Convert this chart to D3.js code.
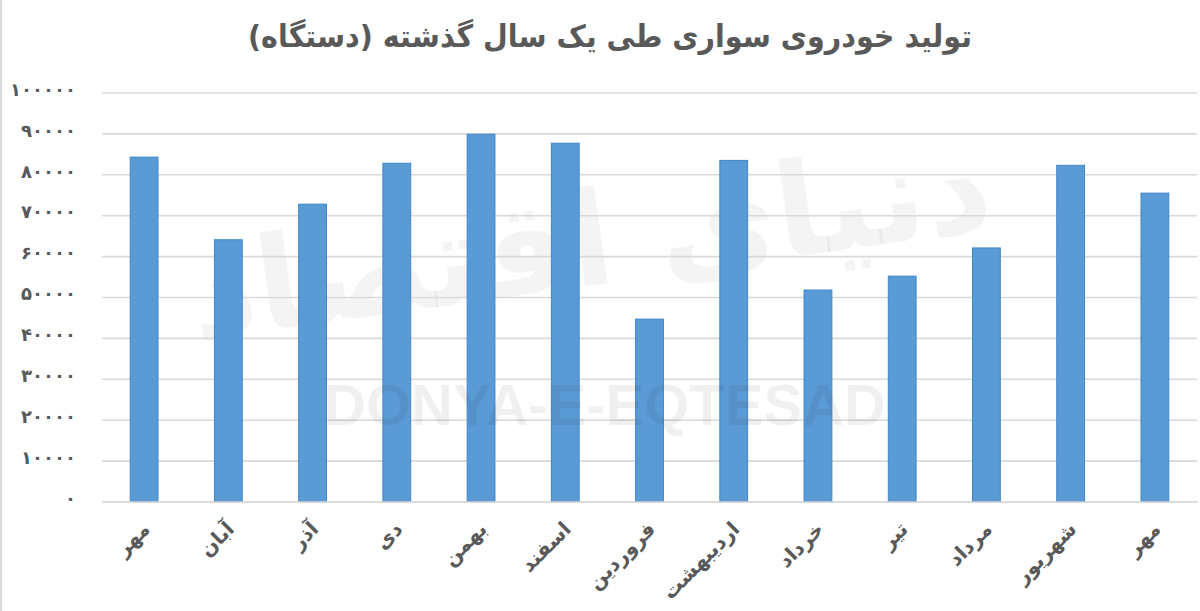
<!DOCTYPE html>
<html>
<head>
<meta charset="utf-8">
<script src="https://cdn.jsdelivr.net/npm/d3@7"></script>
<style>
  html, body { margin: 0; padding: 0; background: #fff; }
  svg { display: block; }
</style>
</head>
<body>
<svg id="chart" width="1200" height="611"></svg>
<script>
const title = "تولید خودروی سواری طی یک سال گذشته (دستگاه)";
const months = ["مهر","آبان","آذر","دی","بهمن","اسفند","فروردین","اردیبهشت","خرداد","تیر","مرداد","شهریور","مهر"];
const production = [84200, 64000, 72700, 82700, 89800, 87600, 44600, 83400, 51700, 55100, 62000, 82200, 75400];
const yTicks = [0, 10000, 20000, 30000, 40000, 50000, 60000, 70000, 80000, 90000, 100000];

const faDigits = "۰۱۲۳۴۵۶۷۸۹";
const toFa = n => String(n).replace(/[0-9]/g, d => faDigits[+d]);

const W = 1200, H = 611;
const margin = {left: 102, right: 3, top: 92.5, bottom: 109.5};
const svg = d3.select("#chart");
const font = "'DejaVu Sans', sans-serif";
const textColor = "#595959";

// left border line
svg.append("line").attr("x1", 1).attr("x2", 1).attr("y1", 0).attr("y2", H)
  .attr("stroke", "#d9d9d9").attr("stroke-width", 2);

const x = d3.scaleBand()
  .domain(months.map((m, i) => i))
  .range([margin.left, W - margin.right])
  .paddingInner(0.67).paddingOuter(0.335);

const y = d3.scaleLinear().domain([0, 100000]).range([H - margin.bottom, margin.top]);

// watermark (behind / faint)
svg.append("text").attr("x", 590).attr("y", 285)
  .attr("text-anchor", "middle").attr("font-family", font)
  .attr("font-weight", "bold").attr("font-size", 130)
  .attr("fill", "#000").attr("fill-opacity", 0.045)
  .attr("transform", "rotate(-8,590,240)")
  .text("دنیای اقتصاد");

// gridlines
const yAxis = d3.axisLeft(y).tickValues(yTicks).tickSize(-(W - margin.right - margin.left)).tickFormat(toFa);
const gy = svg.append("g").attr("transform", `translate(${margin.left},0)`).call(yAxis);
gy.select(".domain").remove();
gy.selectAll(".tick line").attr("stroke", "#d9d9d9").attr("stroke-width", 1.6);
gy.selectAll(".tick text")
  .attr("x", -26).attr("dy", "0.15em")
  .attr("fill", textColor).attr("font-family", font).attr("font-weight", "bold")
  .attr("font-size", 18).attr("text-anchor", "end");

// bars
svg.append("g").selectAll("rect").data(production).join("rect")
  .attr("x", (d, i) => x(i))
  .attr("y", d => y(d))
  .attr("width", x.bandwidth())
  .attr("height", d => y(0) - y(d))
  .attr("fill", "#5b9bd5")
  .attr("stroke", "#3f86cc")
  .attr("stroke-width", 1);

// x axis
const xAxis = d3.axisBottom(x).tickSize(0).tickFormat(i => months[i]);
const gx = svg.append("g").attr("transform", `translate(0,${y(0)})`).call(xAxis);
gx.select(".domain").attr("stroke", "#d9d9d9").attr("stroke-width", 1.6);
gx.selectAll(".tick text")
  .attr("fill", textColor).attr("font-family", font).attr("font-weight", "bold")
  .attr("font-size", 20)
  .attr("text-anchor", "end")
  .attr("y", 0).attr("dy", "0.35em")
  .attr("transform", "translate(2,24) rotate(-45)");

// watermark latin
svg.append("text").attr("x", 605).attr("y", 425)
  .attr("text-anchor", "middle").attr("font-family", "'Liberation Sans', Arial, sans-serif")
  .attr("font-weight", "bold").attr("font-size", 58)
  .attr("fill", "#000").attr("fill-opacity", 0.06)
  .text("DONYA-E-EQTESAD");

// title
svg.append("text").attr("x", 610).attr("y", 47)
  .attr("text-anchor", "middle").attr("font-family", font)
  .attr("font-weight", "bold").attr("font-size", 31)
  .attr("fill", textColor)
  .attr("textLength", 724).attr("lengthAdjust", "spacingAndGlyphs")
  .text(title);
</script>
</body>
</html>
